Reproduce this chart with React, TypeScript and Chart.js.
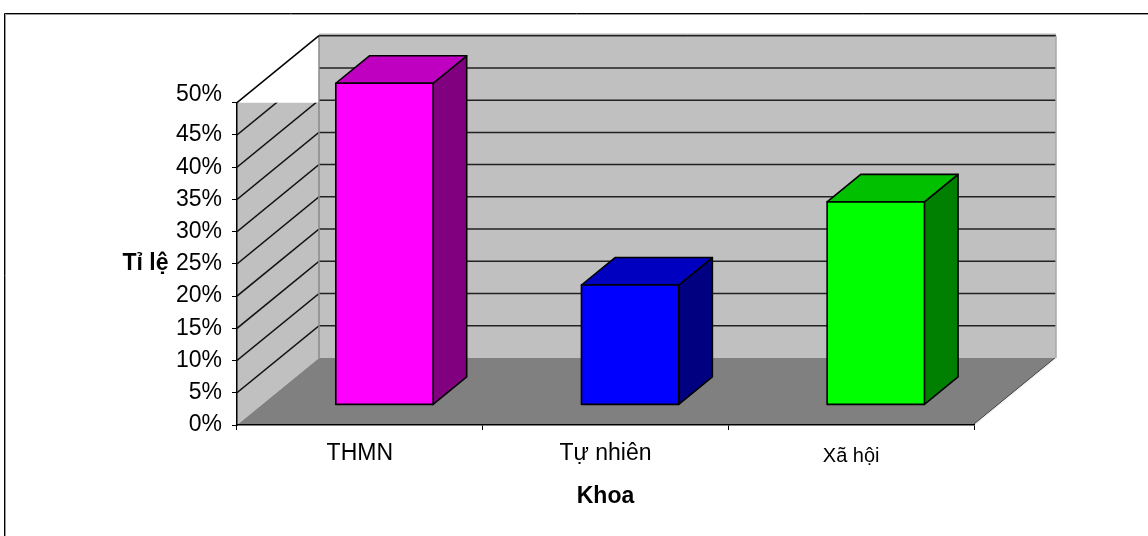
import { useEffect, useRef } from 'react';
import { Chart, registerables } from 'chart.js';

Chart.register(...registerables);

// ---- data ----
const categories = ['THMN', 'Tự nhiên', 'Xã hội'];
const values = [49.9, 18.6, 31.5];
const yTickValues = [0, 5, 10, 15, 20, 25, 30, 35, 40, 45, 50];
const frontColors = ['#FF00FF', '#0000FF', '#00FF00'];
const topColors = ['#C000C0', '#0000C0', '#00C000'];
const sideColors = ['#800080', '#000080', '#008000'];
const yAxisTitle = 'Tỉ lệ';
const xAxisTitle = 'Khoa';

// ---- style constants ----
const FONT = '"Liberation Sans", Arial, sans-serif';
const DX = 82; // 3D depth offset (x)
const DY = 67; // 3D depth offset (y)
const BAR_FRONT = 0.3; // bar front face depth fraction
const BAR_DEPTH = 0.41; // bar thickness depth fraction

const scenePlugin = {
  id: 'scene3d',
  beforeDraw(chart: any) {
    const { ctx, chartArea: a, scales } = chart;
    const ys = scales.y;
    const L = a.left, R = a.right, T = a.top, B = a.bottom;
    ctx.save();
    ctx.fillStyle = '#ffffff';
    ctx.fillRect(0, 0, chart.width, chart.height);

    // outer frame
    ctx.strokeStyle = '#000';
    ctx.lineWidth = 1;
    ctx.beginPath();
    ctx.moveTo(4.5, chart.height + 2);
    ctx.lineTo(4.5, 13.5);
    ctx.lineTo(chart.width + 2, 13.5);
    ctx.stroke();
    ctx.strokeStyle = '#9a9a9a';
    ctx.beginPath();
    ctx.moveTo(5.5, chart.height + 2);
    ctx.lineTo(5.5, 14.5);
    ctx.lineTo(chart.width + 2, 14.5);
    ctx.stroke();

    // left wall
    ctx.fillStyle = '#C0C0C0';
    ctx.beginPath();
    ctx.moveTo(L, T);
    ctx.lineTo(L + DX, T);
    ctx.lineTo(L + DX, B - DY);
    ctx.lineTo(L, B);
    ctx.closePath();
    ctx.fill();

    // back wall
    ctx.fillRect(L + DX, T - DY, R - L, B - T);

    // floor
    ctx.fillStyle = '#808080';
    ctx.beginPath();
    ctx.moveTo(L, B);
    ctx.lineTo(R, B);
    ctx.lineTo(R + DX, B - DY);
    ctx.lineTo(L + DX, B - DY);
    ctx.closePath();
    ctx.fill();

    // left wall grid (clipped to wall)
    ctx.save();
    ctx.beginPath();
    ctx.moveTo(L, T);
    ctx.lineTo(L + DX, T);
    ctx.lineTo(L + DX, B - DY);
    ctx.lineTo(L, B);
    ctx.closePath();
    ctx.clip();
    ctx.strokeStyle = '#111';
    ctx.lineWidth = 1.5;
    yTickValues.forEach((v) => {
      if (v === 0) return;
      const py = ys.getPixelForValue(v);
      ctx.beginPath();
      ctx.moveTo(L, py);
      ctx.lineTo(L + DX, py - DY);
      ctx.stroke();
    });
    ctx.restore();

    // back wall grid
    ctx.strokeStyle = '#222';
    ctx.lineWidth = 1.5;
    yTickValues.forEach((v) => {
      if (v === 0) return;
      const py = ys.getPixelForValue(v) - DY;
      ctx.beginPath();
      ctx.moveTo(L + DX, py);
      ctx.lineTo(R + DX, py);
      ctx.stroke();
    });
    // top shading line of back wall
    ctx.strokeStyle = '#8a8a8a';
    ctx.lineWidth = 1;
    ctx.beginPath();
    ctx.moveTo(L + DX, T - DY - 1.5);
    ctx.lineTo(R + DX, T - DY - 1.5);
    ctx.stroke();

    // back wall vertical edges
    ctx.strokeStyle = '#8a8a8a';
    ctx.lineWidth = 1.5;
    ctx.beginPath();
    ctx.moveTo(L + DX, T - DY);
    ctx.lineTo(L + DX, B - DY);
    ctx.stroke();
    ctx.strokeStyle = '#a8a8a8';
    ctx.beginPath();
    ctx.moveTo(R + DX, T - DY);
    ctx.lineTo(R + DX, B - DY);
    ctx.stroke();

    // top-left diagonal edge
    ctx.strokeStyle = '#000';
    ctx.lineWidth = 1.5;
    ctx.beginPath();
    ctx.moveTo(L, T);
    ctx.lineTo(L + DX, T - DY);
    ctx.stroke();

    // floor right edge
    ctx.strokeStyle = '#333';
    ctx.lineWidth = 1;
    ctx.beginPath();
    ctx.moveTo(R - 1, B);
    ctx.lineTo(R + DX - 1, B - DY);
    ctx.stroke();
    ctx.strokeStyle = '#f2f2f2';
    ctx.lineWidth = 1.2;
    ctx.beginPath();
    ctx.moveTo(R + 0.5, B);
    ctx.lineTo(R + DX + 0.5, B - DY);
    ctx.stroke();

    ctx.restore();
  },
  afterDatasetsDraw(chart: any) {
    const { ctx } = chart;
    const meta = chart.getDatasetMeta(0);
    const fdx = BAR_FRONT * DX, fdy = BAR_FRONT * DY;
    const sdx = BAR_DEPTH * DX, sdy = BAR_DEPTH * DY;
    ctx.save();
    ctx.strokeStyle = '#000';
    ctx.lineWidth = 1.6;
    ctx.lineJoin = 'round';
    meta.data.forEach((bar: any, i: number) => {
      const { x, y, base, width } = bar.getProps(['x', 'y', 'base', 'width'], true);
      const left = x - width / 2 + fdx;
      const right = x + width / 2 + fdx;
      const top = y - fdy;
      const bottom = base - fdy;
      // side
      ctx.fillStyle = sideColors[i];
      ctx.beginPath();
      ctx.moveTo(right, top);
      ctx.lineTo(right + sdx, top - sdy);
      ctx.lineTo(right + sdx, bottom - sdy);
      ctx.lineTo(right, bottom);
      ctx.closePath();
      ctx.fill();
      ctx.stroke();
      // top
      ctx.fillStyle = topColors[i];
      ctx.beginPath();
      ctx.moveTo(left, top);
      ctx.lineTo(left + sdx, top - sdy);
      ctx.lineTo(right + sdx, top - sdy);
      ctx.lineTo(right, top);
      ctx.closePath();
      ctx.fill();
      ctx.stroke();
      // front
      ctx.fillStyle = frontColors[i];
      ctx.beginPath();
      ctx.rect(left, top, right - left, bottom - top);
      ctx.fill();
      ctx.stroke();
    });
    ctx.restore();
  },
  afterDraw(chart: any) {
    const { ctx, scales } = chart;
    const ys = scales.y;
    ctx.save();
    ctx.fillStyle = '#000';
    ctx.font = `bold 23px ${FONT}`;
    ctx.textAlign = 'center';
    ctx.textBaseline = 'alphabetic';
    ctx.fillText(yAxisTitle, 145.5, ys.getPixelForValue(25) + 6.5);
    ctx.restore();
  },
};

export default function App() {
  const ref = useRef<HTMLCanvasElement>(null);
  useEffect(() => {
    const canvas = ref.current;
    if (!canvas) return;
    Chart.defaults.font.family = FONT;
    Chart.defaults.color = '#000';
    const topTick = yTickValues[yTickValues.length - 1];
    const chart = new Chart(canvas, {
      type: 'bar',
      data: {
        labels: categories,
        datasets: [
          {
            data: values,
            backgroundColor: 'rgba(0,0,0,0)',
            borderWidth: 0,
            barPercentage: 0.396,
            categoryPercentage: 1,
          },
        ],
      },
      options: {
        responsive: false,
        animation: false,
        devicePixelRatio: 1,
        layout: { padding: { top: 102.7, right: 174, bottom: 0, left: 0 } },
        plugins: { legend: { display: false }, tooltip: { enabled: false } },
        scales: {
          x: {
            offset: true,
            grid: { offset: true, drawOnChartArea: false, drawTicks: true, tickLength: 5, color: '#000', lineWidth: 1 },
            border: { display: true, color: '#000', width: 1.5 },
            ticks: {
              color: '#000',
              padding: 10,
              maxRotation: 0,
              autoSkip: false,
              font: (c: any) => (c.index === 2 ? { size: 20, lineHeight: 1.6 } : { size: 23 }),
            },
            title: {
              display: true,
              text: xAxisTitle,
              color: '#000',
              font: { size: 23, weight: 'bold' },
              padding: { top: 0, bottom: 26 },
            },
            afterFit: (s: any) => {
              s.height = 111;
            },
          },
          y: {
            min: 0,
            max: 50,
            afterBuildTicks: (s: any) => {
              s.ticks = yTickValues.map((v) => ({ value: v }));
            },
            grid: { drawOnChartArea: false, drawTicks: true, tickLength: 5, color: '#000', lineWidth: 1 },
            border: { display: true, color: '#000', width: 1.5 },
            ticks: {
              color: '#000',
              padding: 10,
              autoSkip: false,
              font: (c: any) =>
                c.tick && c.tick.value === topTick ? { size: 23, lineHeight: '16px' } : { size: 23 },
              callback: (v: any) => (v === topTick ? [v + '%', ''] : v + '%'),
            },
            afterFit: (s: any) => {
              s.width = 237;
            },
          },
        },
      } as any,
      plugins: [scenePlugin],
    });
    return () => chart.destroy();
  }, []);

  return (
    <div style={{ position: 'fixed', left: 0, top: 0, width: 1148, height: 536, background: '#fff', overflow: 'hidden' }}>
      <canvas ref={ref} width={1148} height={536} style={{ width: 1148, height: 536, display: 'block' }} />
    </div>
  );
}
